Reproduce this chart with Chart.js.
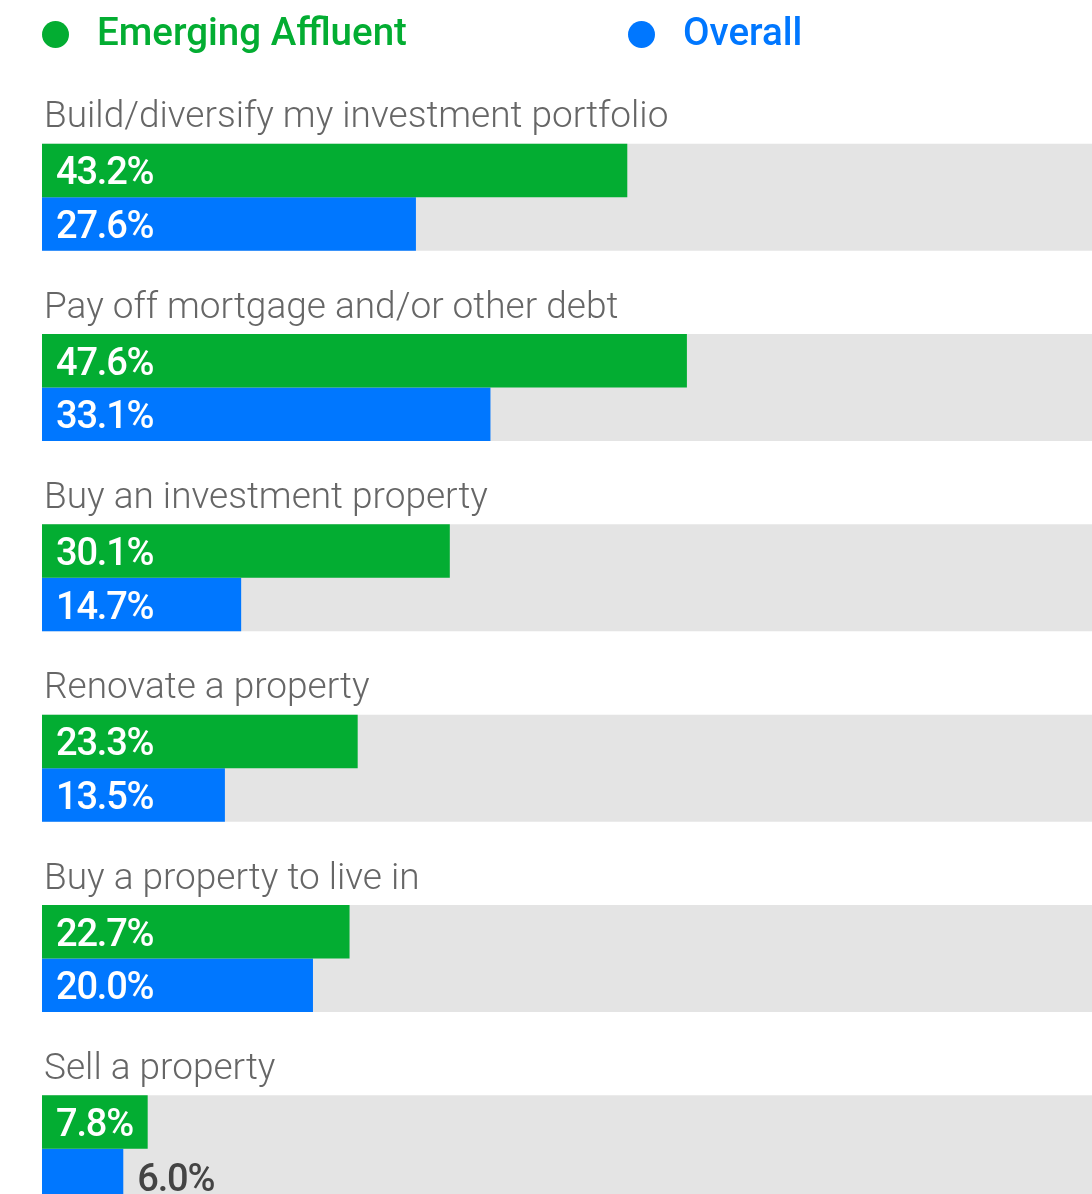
<!DOCTYPE html>
<html>
<head>
<meta charset="utf-8">
<script src="https://cdn.jsdelivr.net/npm/chart.js@4/dist/chart.umd.min.js"></script>
<style>
  html, body { margin: 0; padding: 0; background: #ffffff; }
  #wrap { position: relative; width: 1092px; height: 1194px; overflow: hidden; }
  #chartBox { position: absolute; left: 0; top: 0; width: 1092px; height: 1244px; }
  .legend { position: absolute; top: 0; font-family: Roboto, sans-serif; font-weight: 500; font-size: 38.5px; line-height: 1; }
  .legend .dot { position: absolute; width: 27px; height: 27px; border-radius: 50%; top: 21px; }
  .legend .txt { position: absolute; top: 13px; white-space: nowrap; }
</style>
</head>
<body>
<div id="wrap">
  <div id="chartBox"><canvas id="c"></canvas></div>
  <div class="legend" id="leg1" style="left:0;color:#03AD32">
    <span class="dot" style="left:42px;background:#03AD32"></span>
    <span class="txt" style="left:97px">Emerging Affluent</span>
  </div>
  <div class="legend" id="leg2" style="left:0;color:#0077FF">
    <span class="dot" style="left:628px;background:#0077FF"></span>
    <span class="txt" style="left:683px">Overall</span>
  </div>
</div>
<script>
const categories = [
  "Build/diversify my investment portfolio",
  "Pay off mortgage and/or other debt",
  "Buy an investment property",
  "Renovate a property",
  "Buy a property to live in",
  "Sell a property"
];
const emergingAffluent = [43.2, 47.6, 30.1, 23.3, 22.7, 7.8];
const overall = [27.6, 33.1, 14.7, 13.5, 20.0, 6.0];
const seriesNames = ["Emerging Affluent", "Overall"];
const axisMax = 77.5;
const background = categories.map(() => axisMax);

const GREEN = '#03AD32', BLUE = '#0077FF', GRAY = '#E4E4E4';
const CAT_PCT = 0.562;

const labelPlugin = {
  id: 'labels',
  afterDatasetsDraw(chart) {
    const ctx = chart.ctx;
    const yScale = chart.scales.y;
    ctx.save();
    // category labels above each group
    ctx.font = '300 37px Roboto, sans-serif';
    ctx.fillStyle = '#666666';
    ctx.textAlign = 'left';
    ctx.textBaseline = 'alphabetic';
    categories.forEach((cat, i) => {
      const cy = yScale.getPixelForValue(i);
      ctx.fillText(cat, 44, cy - 70);
    });
    // value labels
    ctx.font = '500 38px Roboto, sans-serif';
    ctx.letterSpacing = '-1.2px';
    ctx.textBaseline = 'alphabetic';
    [0, 1].forEach(di => {
      const meta = chart.getDatasetMeta(di);
      const data = chart.data.datasets[di].data;
      meta.data.forEach((bar, i) => {
        const txt = data[i].toFixed(1) + '%';
        const w = ctx.measureText(txt).width;
        const barW = bar.x - bar.base;
        if (w + 16 <= barW) {
          ctx.fillStyle = '#ffffff';
          ctx.fillText(txt, bar.base + 14, bar.y + 14);
        } else {
          ctx.fillStyle = '#444444';
          ctx.fillText(txt, bar.x + 14, bar.y + 15);
        }
      });
    });
    ctx.restore();
  }
};

new Chart(document.getElementById('c'), {
  type: 'bar',
  data: {
    labels: categories,
    datasets: [
      { label: seriesNames[0], data: emergingAffluent, backgroundColor: GREEN, order: 0,
        categoryPercentage: CAT_PCT, barPercentage: 1, borderWidth: 0 },
      { label: seriesNames[1], data: overall, backgroundColor: BLUE, order: 0,
        categoryPercentage: CAT_PCT, barPercentage: 1, borderWidth: 0 },
      { label: 'bg', data: background, backgroundColor: GRAY, order: 1, grouped: false,
        categoryPercentage: CAT_PCT, barPercentage: 1, borderWidth: 0 }
    ]
  },
  options: {
    indexAxis: 'y',
    responsive: true,
    maintainAspectRatio: false,
    animation: false,
    layout: { padding: { left: 42, right: 0, top: 102, bottom: 0 } },
    scales: {
      x: { display: false, min: 0, max: axisMax },
      y: { display: false }
    },
    plugins: {
      legend: { display: false },
      tooltip: { enabled: false }
    }
  },
  plugins: [labelPlugin]
});
</script>
</body>
</html>
